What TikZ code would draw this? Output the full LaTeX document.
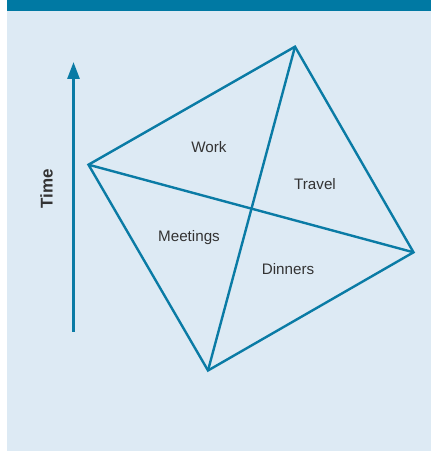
\documentclass[tikz,border=0pt]{standalone}
\usepackage{fontspec}
\setmainfont{Liberation Sans}
\usetikzlibrary{arrows.meta}
\definecolor{teal}{HTML}{0A7BA5}
\definecolor{bandblue}{HTML}{0079A3}
\definecolor{panel}{HTML}{DDEAF4}
\definecolor{ink}{HTML}{333333}
\tikzset{
  edge/.style={draw=teal, line width=2.4pt, line join=miter},
  region/.style={text=ink, font=\fontsize{15.2}{18}\selectfont, anchor=base, inner sep=0pt},
  axislabel/.style={text=ink, font=\fontsize{17}{20}\selectfont\bfseries, rotate=90, inner sep=0pt},
  timeaxis/.style={draw=teal, line width=2.8pt, -{Triangle[length=17pt,width=12pt]}}
}
\begin{document}
\begin{tikzpicture}[x=1pt,y=1pt]
  \useasboundingbox (0,0) rectangle (431,451);
  % panel and title band
  \fill[panel] (7,0) rectangle (431,440);
  \fill[bandblue] (7,440) rectangle (431,451);

  % time axis
  \coordinate (tlow) at (73.5,119);
  \coordinate (thigh) at (73.5,389);
  \draw[timeaxis] (tlow) -- (thigh);
  \node[axislabel] (time) at (46.5,262) {Time};

  % quadrilateral corners
  \coordinate (top) at (295,404.3);
  \coordinate (left) at (88.5,286.3);
  \coordinate (right) at (413.5,198.7);
  \coordinate (bottom) at (208,80.5);

  \draw[edge] (left) -- (top) -- (right) -- (bottom) -- cycle;
  \draw[edge] (left) -- (right);
  \draw[edge] (top) -- (bottom);

  % region labels
  \node[region] (work) at (209,298.5) {Work};
  \node[region] (travel) at (315,261) {Travel};
  \node[region] (meetings) at (189,209) {Meetings};
  \node[region] (dinners) at (288,176) {Dinners};
\end{tikzpicture}
\end{document}
